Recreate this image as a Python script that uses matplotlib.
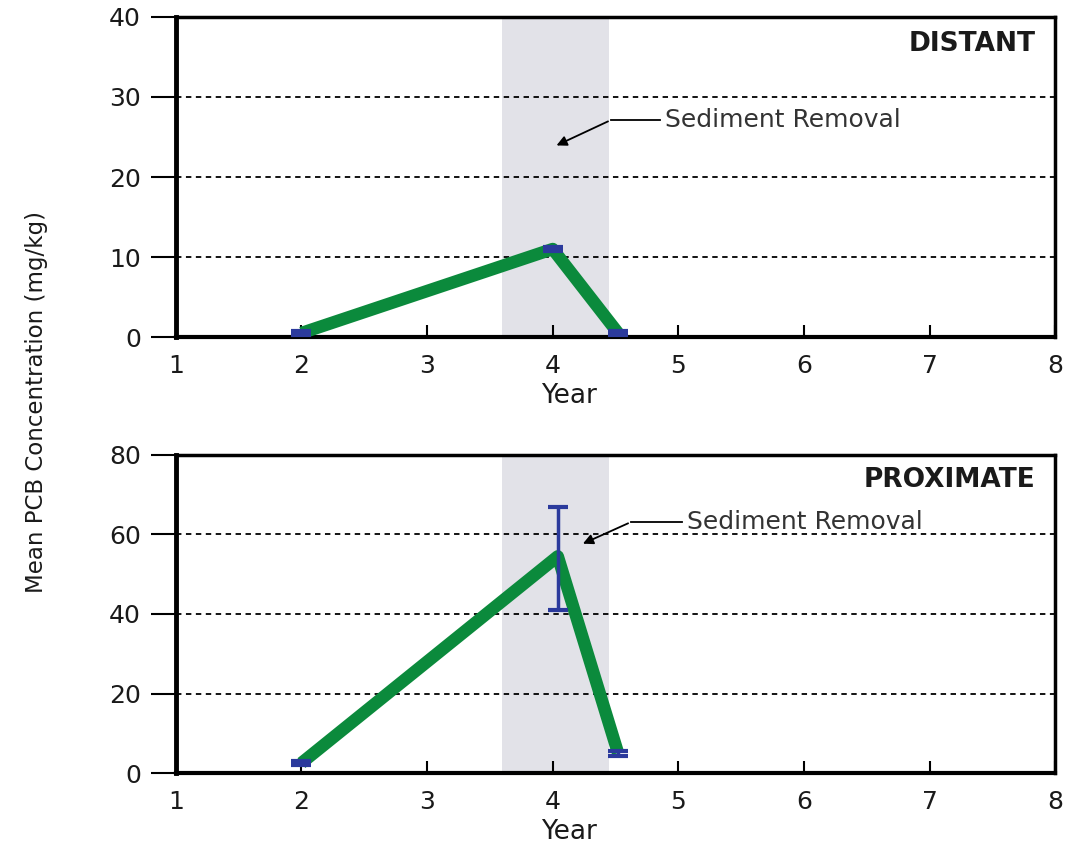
# Mean PCB concentration before/after sediment removal

import numpy as np
import matplotlib.pyplot as plt

plt.rcParams['font.family'] = ['DejaVu Sans']

years_distant = [2, 4, 4.52]
pcb_distant = [0.5, 11, 0.5]
err_lo_distant = [0.3, 0.3, 0.3]
err_hi_distant = [0.3, 0.3, 0.3]

years_prox = [2, 4.04, 4.52]
pcb_prox = [2.5, 54.5, 5]
err_lo_prox = [0.6, 13.5, 0.6]
err_hi_prox = [0.6, 12.5, 0.6]

removal_span = (3.6, 4.45)
xticks = [1, 2, 3, 4, 5, 6, 7, 8]

GREEN = '#0b8a3c'
BLUE = '#2b3a9c'
SHADE = '#e2e2e8'
TXT = '#1a1a1a'


def setup_axes(ax, ymax, step, label, label_y):
    ax.set_xlim(1, 8)
    ax.set_ylim(0, ymax)
    ax.set_xticks(xticks)
    ax.set_yticks(np.arange(0, ymax + 1, step))
    ax.tick_params(axis='y', direction='out', length=18, width=1.5, labelsize=18, pad=7,
                   labelcolor=TXT)
    ax.tick_params(axis='x', direction='in', length=9, width=1.5, labelsize=18, pad=12,
                   labelcolor=TXT)
    ax.spines['left'].set_linewidth(3.5)
    ax.spines['bottom'].set_linewidth(3)
    ax.spines['top'].set_linewidth(2.5)
    ax.spines['right'].set_linewidth(2.5)
    for yv in np.arange(step, ymax, step):
        ax.axhline(yv, color='black', ls=(0, (3, 2.5)), lw=1.3, zorder=1)
    ax.axvspan(*removal_span, color=SHADE, zorder=0, lw=0)
    ax.set_xlabel('Year', fontsize=19, color=TXT)
    ax.xaxis.set_label_coords(0.447, -0.145)
    ax.text(0.977, label_y, label, transform=ax.transAxes, ha='right', va='top',
            fontsize=19, fontweight='bold', color=TXT)


fig = plt.figure(figsize=(10.65, 8.49), dpi=100)
ax1 = fig.add_axes([0.165, 0.603, 0.826, 0.377])
ax2 = fig.add_axes([0.165, 0.0895, 0.826, 0.3746])

setup_axes(ax1, 40, 10, 'DISTANT', 0.955)
setup_axes(ax2, 80, 20, 'PROXIMATE', 0.962)

ax1.plot(years_distant, pcb_distant, color=GREEN, lw=9, zorder=3, solid_capstyle='butt')
ax1.errorbar(years_distant, pcb_distant, yerr=[err_lo_distant, err_hi_distant], fmt='none',
             ecolor=BLUE, elinewidth=2.5, capsize=7, capthick=3, zorder=4)

ax2.plot(years_prox, pcb_prox, color=GREEN, lw=9, zorder=3, solid_capstyle='butt')
ax2.errorbar(years_prox, pcb_prox, yerr=[err_lo_prox, err_hi_prox], fmt='none',
             ecolor=BLUE, elinewidth=2.5, capsize=7, capthick=3, zorder=4)

# Sediment removal call-outs
ax1.plot([4.46, 4.85], [27.1, 27.1], color='black', lw=1.3, zorder=5)
ax1.annotate('', xy=(4.01, 23.8), xytext=(4.46, 27.1),
             arrowprops=dict(arrowstyle='-|>', color='black', lw=1.3, mutation_scale=15), zorder=5)
ax1.text(4.89, 27.1, 'Sediment Removal', fontsize=18, va='center', ha='left', color='#333333')

ax2.plot([4.62, 5.03], [63.1, 63.1], color='black', lw=1.3, zorder=5)
ax2.annotate('', xy=(4.22, 57.4), xytext=(4.62, 63.1),
             arrowprops=dict(arrowstyle='-|>', color='black', lw=1.3, mutation_scale=15), zorder=5)
ax2.text(5.07, 63.1, 'Sediment Removal', fontsize=18, va='center', ha='left', color='#333333')

fig.text(0.034, 0.5265, 'Mean PCB Concentration (mg/kg)', rotation=90, fontsize=16.5,
         ha='center', va='center', color=TXT)

fig.savefig('out.png', dpi=100)
